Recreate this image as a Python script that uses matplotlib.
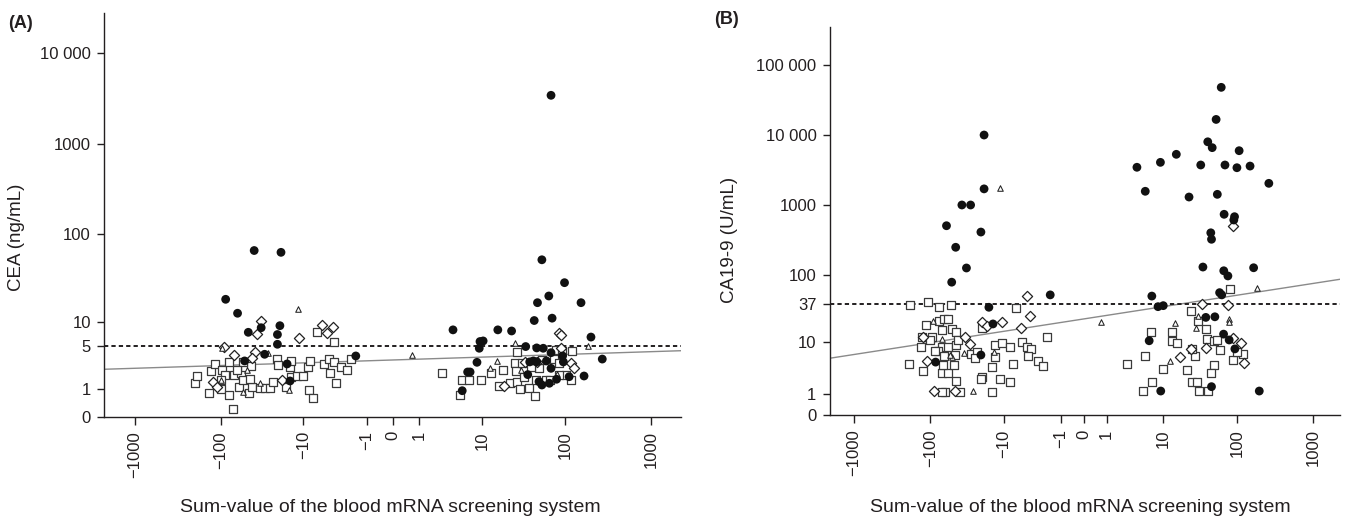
import numpy as np
import matplotlib
matplotlib.use("Agg")
import matplotlib.pyplot as plt

plt.rcParams['font.family'] = ['Liberation Sans', 'DejaVu Sans']

TXT = '#231f20'

# ---- Panel A: CEA ----
a_circ_x = [-40, -19, -87, -63, -33, -19.6, -21, -21, -30, -52, -16, -14.7, -1.7, -47,
            4.0, 15.6, 23, 43, 70, 47, 153, 200, 271, 9.3, 10.2, 9.1, 8.5, 6.4, 6.9, 5.4,
            34, 46, 55, 68, 38, 42, 46, 60, 93, 95, 68, 36, 49, 53, 65, 79, 111, 166,
            68, 53, 98, 64]
a_circ_y = [66, 63, 18.5, 12.7, 8.5, 9.0, 7.0, 5.25, 3.85, 3.1, 2.8, 1.47, 3.65, 7.46,
            8.0, 8.0, 7.75, 10.4, 11.1, 16.9, 16.9, 6.5, 3.3, 5.7, 5.8, 4.65, 2.96, 2.1, 2.1, 0.93,
            4.9, 4.7, 4.65, 4.05, 3.0, 3.1, 3.0, 3.1, 3.65, 3.0, 2.4, 1.9, 1.43, 1.23, 1.33, 1.58, 1.75, 1.8,
            3400, 52, 28.7, 20.2]

a_sq_x = [-198, -190, -137, -128, -115, -98, -96, -79, -79, -70, -72, -60, -58, -55, -51,
          -46, -44, -42, -34, -29.5, -25.5, -24, -21.5, -20.5, -16.6, -14.8, -14.1, -14.1,
          -12.0, -10.1, -8.7, -8.5, -8.3, -7.4, -6.7, -5.4, -4.6, -3.9, -4.4, -3.8, -3.6,
          -3.0, -2.4, -2.1, -55, -88, -64, -45, -100,
          2.7, 5.1, 5.4, 6.7, 9.7, 12.8, 18, 16, 21.7, 26.7, 25.4, 26, 26.7, 28.7, 32.3,
          37.3, 44, 44.6, 48.4, 53, 58.6, 74, 78, 85, 91, 102, 116, 121, 85, 31, 39.6, 67]
a_sq_y = [1.33, 1.8, 0.81, 2.2, 2.77, 1.0, 2.26, 0.73, 3.0, 1.87, 0.2, 1.14, 2.0, 1.53, 2.54,
          0.81, 2.6, 1.14, 1.05, 1.05, 1.05, 1.42, 3.27, 2.7, 1.14, 2.54, 3.1, 1.75,
          1.8, 1.8, 2.54, 0.965, 3.1, 0.62, 7.6, 2.77, 3.27, 5.55, 2.0, 3.0, 1.33,
          2.54, 2.3, 3.27, 3.0, 1.85, 2.3, 1.6, 1.5,
          2.05, 0.72, 1.53, 1.53, 1.53, 2.0, 2.26, 1.18, 1.33, 4.2, 2.9, 2.2, 1.42, 1.0, 1.75,
          1.05, 0.7, 1.53, 2.4, 3.2, 1.53, 3.27, 4.4, 2.85, 4.33, 1.87, 1.53, 4.33, 1.87, 2.85, 2.54, 1.53]

a_dia_x = [-92, -33, -37, -70, -39, -43, -123, -111, -18.6, -11.2, -5.7, -4.0, -4.8,
           85, 88, 18.4, 33.3, 90, 118, 127, 47]
a_dia_y = [4.9, 10.3, 7.05, 3.76, 4.1, 3.4, 1.42, 1.14, 1.53, 6.3, 9.2, 8.6, 7.4,
           7.25, 6.9, 1.18, 3.0, 4.65, 2.9, 2.4, 3.0]

a_tri_x = [-11.8, -96, 0.67, 25, 186, 15.1, 12.5, 80, 29.7, -49, -34, -15, -55, -27, -98]
a_tri_y = [14.4, 4.65, 3.76, 5.5, 5.0, 3.1, 2.4, 1.92, 2.26, 2.3, 1.37, 0.965, 0.85, 3.97, 1.5]

a_cutoff = 5
a_reg_x = [-2285, 2238]
a_reg_y = [2.32, 4.31]
a_yticks = [0, 1, 5, 10, 100, 1000, 10000]
a_yticklabels = ['0', '1', '5', '10', '100', '1000', '10 000']

# ---- Panel B: CA19-9 ----
b_circ_x = [-19, -19, -38, -29, -61, -21, -46, -33, -52, -1.73, -16.3, -14.3, -85, -21,
            6.8, 8.4, 10.0, 59, 63, 38.6, 51, 6.2, 66.6, 79, 94, 46, 9.2, 197,
            62, 53, 41, 47, 107, 15.3, 9.1, 3.98, 33, 69.5, 100, 149, 263, 5.4, 22.9, 55,
            67.7, 93, 91, 45, 46, 35.3, 166, 67, 76]
b_circ_y = [10000, 1700, 1000, 1000, 505, 410, 248, 125, 78, 51, 33.6, 19, 4.7, 6.2,
            49, 34.3, 35.5, 55, 51, 23.8, 24.3, 10.5, 13.3, 10.8, 7.8, 1.54, 1.2, 1.2,
            48000, 16700, 8000, 6600, 5970, 5300, 4070, 3460, 3730, 3730, 3410, 3600, 2040, 1570, 1300, 1420,
            736, 680, 610, 400, 323, 129, 126, 114, 96]

b_sq_x = [-185, -106, -77, -53, -6.6, -114, -77, -65, -58, -71, -52, -45, -130, -96, -101,
          -132, -71, -79, -58, -45, -43, -65, -28.5, -24, -25.3, -20, -13.4, -10.7, -8.3,
          -13.6, -7.3, -14.6, -5.4, -4.5, -3.8, -4.3, -3.0, -2.35, -2.05, -190, -126, -69,
          -58, -49, -68, -45, -20.6, -21, -11.4, -8.2, -14.6, -40, -64, -71, -47, -87,
          81, 24.6, 30.7, 6.5, 13.3, 13.3, 15.8, 39.4, 40, 49.5, 54.6, 59, 27.3, 25, 5.4,
          2.66, 9.8, 21.5, 49.5, 44.8, 6.9, 5.0, 25.0, 29.8, 31.5, 40.8, 90, 122, 101]
b_sq_y = [36, 40, 34, 36, 32.5, 18.3, 21, 22.8, 22.2, 15.4, 15.8, 14.2, 12.1, 12.1, 10.8,
          8.4, 8.4, 7.3, 8.4, 9.0, 10.8, 6.0, 6.4, 7.0, 5.6, 16.6, 9.0, 9.8, 8.3,
          5.8, 4.35, 3.8, 9.9, 8.3, 7.7, 5.9, 4.95, 4.0, 11.9, 4.3, 3.3, 3.0,
          3.0, 4.2, 4.2, 2.06, 2.5, 2.23, 2.25, 1.99, 1.15, 1.15, 1.15, 1.15, 6.2, 7.2,
          62.5, 29.5, 21.1, 14.2, 14.2, 10.5, 9.6, 15.7, 11.2, 10.4, 10.8, 7.5, 5.97, 7.7, 5.97,
          4.3, 3.6, 3.4, 4.18, 2.94, 2.0, 1.2, 2.0, 2.0, 1.2, 1.2, 5.1, 6.45, 7.0]

b_dia_x = [-4.5, -4.0, -5.6, -20.6, -17.4, -10.7, -124, -35, -30, -109, -88, -47,
           34.6, 77, 17.4, 38.6, 90, 112, 125, 24.4, 88]
b_dia_y = [49, 25, 16.3, 20, 17.8, 20, 12.1, 12.1, 9.5, 5.0, 1.2, 1.2,
           37.1, 36.3, 5.8, 8.0, 11.7, 9.6, 4.46, 7.7, 505]

b_tri_x = [-11.4, -91, -36, -52, -26.5, -13.7, -71, -54, 0.69, 182, 14.7, 28.5, 30, 79, 79, 12.5]
b_tri_y = [1750, 21, 6.6, 5.8, 1.2, 7.0, 11.0, 6.2, 20, 64.5, 19.3, 16.6, 25.3, 22.8, 20.5, 4.9]

b_cutoff = 37
b_reg_x = [-2097, 2248]
b_reg_y = [5.46, 85.9]
b_yticks = [0, 1, 10, 37, 100, 1000, 10000, 100000]
b_yticklabels = ['0', '1', '10', '37', '100', '1000', '10 000', '100 000']

xticks = [-1000, -100, -10, -1, 0, 1, 10, 100, 1000]
xticklabels = ['\u22121000', '\u2212100', '\u221210', '\u22121', '0', '1', '10', '100', '1000']


def fwd(v):
    v = np.asarray(v, dtype=float)
    return np.sign(v) * np.log10(np.abs(v) + 1)


def inv(u):
    u = np.asarray(u, dtype=float)
    return np.sign(u) * (10 ** np.abs(u) - 1)


def draw_panel(ax, cx, cy, sx, sy, dx, dy, tx, ty, cutoff, reg_x, reg_y, xlim, ylim, yt, ytl):
    ax.set_xscale('function', functions=(fwd, inv))
    ax.set_yscale('function', functions=(fwd, inv))
    ax.set_xlim(*xlim)
    ax.set_ylim(*ylim)

    ax.plot(reg_x, reg_y, color='#8a8a8a', lw=1.0, zorder=1)
    ax.axhline(cutoff, color=TXT, lw=1.4, ls=(0, (2.2, 1.6)), zorder=1)

    ax.scatter(sx, sy, marker='s', s=30, facecolors='white', edgecolors='#3a3a3a', linewidths=0.9, zorder=2)
    ax.scatter(dx, dy, marker='D', s=27, facecolors='white', edgecolors='#222222', linewidths=0.9, zorder=3)
    ax.scatter(tx, ty, marker='^', s=16, facecolors='white', edgecolors='#222222', linewidths=0.75, zorder=3)
    ax.scatter(cx, cy, marker='o', s=40, color='#111111', edgecolors='none', zorder=4)

    for side in ['top', 'right']:
        ax.spines[side].set_visible(False)
    for side in ['left', 'bottom']:
        ax.spines[side].set_linewidth(1.0)
        ax.spines[side].set_color(TXT)

    ax.set_xticks(xticks)
    ax.set_xticklabels(xticklabels, rotation=90)
    ax.set_yticks(yt)
    ax.set_yticklabels(ytl)
    ax.minorticks_off()
    ax.tick_params(axis='both', direction='out', length=5.4, width=1.0, color=TXT,
                   labelsize=12, labelcolor=TXT)
    ax.tick_params(axis='x', pad=5)
    ax.tick_params(axis='y', pad=4)


fig = plt.figure(figsize=(13.46, 5.19), dpi=100)
W, H = 1346, 519

ax_a = fig.add_axes([104 / W, 1 - 416.7 / H, 577 / W, 404 / H])
draw_panel(ax_a, a_circ_x, a_circ_y, a_sq_x, a_sq_y, a_dia_x, a_dia_y, a_tri_x, a_tri_y,
           a_cutoff, a_reg_x, a_reg_y, (-2285, 2238), (0, 27500), a_yticks, a_yticklabels)

ax_b = fig.add_axes([829.5 / W, 1 - 415 / H, 510.5 / W, 387.7 / H])
draw_panel(ax_b, b_circ_x, b_circ_y, b_sq_x, b_sq_y, b_dia_x, b_dia_y, b_tri_x, b_tri_y,
           b_cutoff, b_reg_x, b_reg_y, (-2097, 2248), (0, 346000), b_yticks, b_yticklabels)

fig.text(17 / W, 1 - 237 / H, 'CEA (ng/mL)', rotation=90, ha='center', va='center', fontsize=13.5, color=TXT)
fig.text(730 / W, 1 - 240 / H, 'CA19-9 (U/mL)', rotation=90, ha='center', va='center', fontsize=13.5, color=TXT)
fig.text(390 / W, 1 - 508 / H, 'Sum-value of the blood mRNA screening system', ha='center', va='center',
         fontsize=14, color=TXT)
fig.text(1080 / W, 1 - 508 / H, 'Sum-value of the blood mRNA screening system', ha='center', va='center',
         fontsize=14, color=TXT)
fig.text(8 / W, 1 - 24 / H, '(A)', ha='left', va='center', fontsize=13, fontweight='bold', color=TXT)
fig.text(714 / W, 1 - 20 / H, '(B)', ha='left', va='center', fontsize=13, fontweight='bold', color=TXT)

fig.savefig('out.png', dpi=100)
